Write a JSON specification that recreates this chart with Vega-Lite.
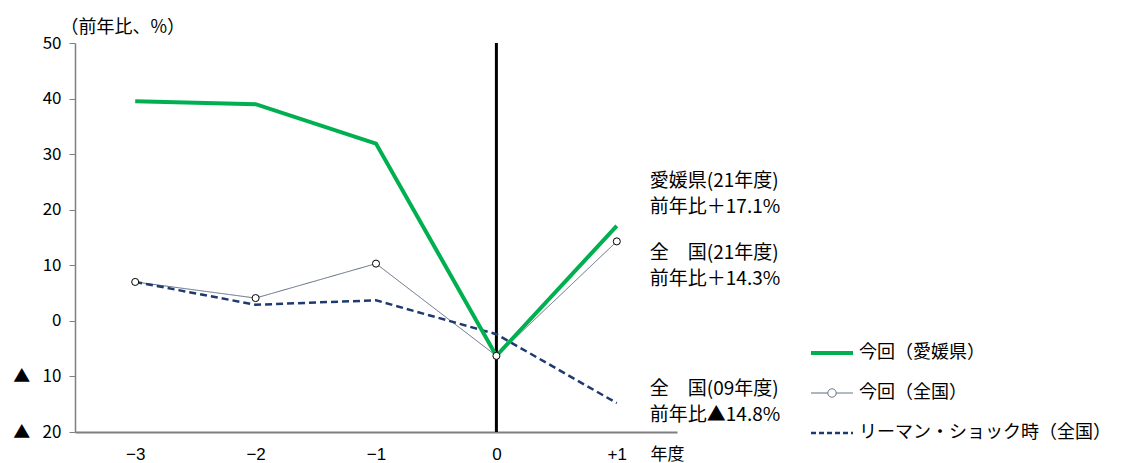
{
  "$schema": "https://vega.github.io/schema/vega-lite/v6.json",
  "width": 602,
  "height": 389,
  "autosize": "none",
  "padding": {"left": 75, "top": 43, "right": 444, "bottom": 31},
  "background": "white",
  "config": {
    "view": {"stroke": null},
    "font": "Noto Sans CJK JP",
    "text": {"font": "Noto Sans CJK JP", "color": "black"}
  },
  "datasets": {
    "series": [
      {"year": "−3", "series": "今回（愛媛県）", "value": 39.5},
      {"year": "−2", "series": "今回（愛媛県）", "value": 39.0},
      {"year": "−1", "series": "今回（愛媛県）", "value": 31.9},
      {"year": "0", "series": "今回（愛媛県）", "value": -6.3},
      {"year": "+1", "series": "今回（愛媛県）", "value": 17.1},
      {"year": "−3", "series": "今回（全国）", "value": 7.0},
      {"year": "−2", "series": "今回（全国）", "value": 4.1},
      {"year": "−1", "series": "今回（全国）", "value": 10.3},
      {"year": "0", "series": "今回（全国）", "value": -6.3},
      {"year": "+1", "series": "今回（全国）", "value": 14.3},
      {"year": "−3", "series": "リーマン・ショック時（全国）", "value": 7.0},
      {"year": "−2", "series": "リーマン・ショック時（全国）", "value": 2.9},
      {"year": "−1", "series": "リーマン・ショック時（全国）", "value": 3.7},
      {"year": "0", "series": "リーマン・ショック時（全国）", "value": -2.4},
      {"year": "+1", "series": "リーマン・ショック時（全国）", "value": -14.8}
    ],
    "notes": [
      {"year": "+1", "y": 25.2, "text": ["愛媛県(21年度)", "前年比＋17.1%"]},
      {"year": "+1", "y": 12.3, "text": ["全　国(21年度)", "前年比＋14.3%"]},
      {"year": "+1", "y": -12.2, "text": ["全　国(09年度)", "前年比▲14.8%"]}
    ],
    "marker": [{"year": "0", "label": "ショック時"}]
  },
  "encoding": {
    "x": {
      "field": "year",
      "type": "nominal",
      "sort": ["−3", "−2", "−1", "0", "+1"],
      "scale": {"type": "point", "padding": 0.5, "domain": ["−3", "−2", "−1", "0", "+1"]},
      "axis": {
        "title": "年度",
        "titleAngle": 0,
        "titleX": 575,
        "titleY": 22,
        "titleAlign": "left",
        "titleBaseline": "middle",
        "titleFontSize": 17,
        "titleFontWeight": "normal",
        "titleColor": "black",
        "labelAngle": 0,
        "labelFont": "Liberation Sans",
        "labelFontSize": 17,
        "labelColor": "black",
        "labelPadding": 14,
        "ticks": false,
        "grid": false,
        "domainColor": "#7f7f7f",
        "domainWidth": 2
      }
    },
    "y": {
      "field": "value",
      "type": "quantitative",
      "scale": {"domain": [-20, 50], "nice": false, "zero": false},
      "axis": {
        "values": [-20, -10, 0, 10, 20, 30, 40, 50],
        "labelExpr": "datum.value < 0 ? '▲ \u2002' + abs(datum.value) : datum.value",
        "labelFont": "Noto Sans CJK JP",
        "labelFontSize": 17,
        "labelColor": "black",
        "labelPadding": 8,
        "tickSize": 6,
        "tickColor": "#7f7f7f",
        "domainColor": "#7f7f7f",
        "domainWidth": 1.5,
        "grid": false,
        "title": "（前年比、%）",
        "titleAngle": 0,
        "titleX": -15,
        "titleY": -16,
        "titleAlign": "left",
        "titleBaseline": "middle",
        "titleFontSize": 18,
        "titleFontWeight": "normal",
        "titleColor": "black"
      }
    }
  },
  "layer": [
    {
      "data": {"name": "marker"},
      "mark": {"type": "rule", "color": "black", "strokeWidth": 1},
      "encoding": {"x": null, "y": {"datum": 0, "type": "quantitative"}}
    },
    {
      "data": {"name": "marker"},
      "mark": {"type": "rule", "color": "black", "strokeWidth": 3},
      "encoding": {"y": null}
    },
    {
      "data": {"name": "marker"},
      "mark": {"type": "text", "fontSize": 15, "dy": -11, "clip": false},
      "encoding": {
        "y": {"datum": 50, "type": "quantitative"},
        "text": {"field": "label"}
      }
    },
    {
      "data": {"name": "series"},
      "transform": [{"filter": "datum.series !== '今回（愛媛県）'"}],
      "mark": {"type": "line"},
      "encoding": {
        "detail": {"field": "series"},
        "color": {
          "field": "series",
          "type": "nominal",
          "scale": {
            "domain": ["今回（愛媛県）", "今回（全国）", "リーマン・ショック時（全国）"],
            "range": ["#00b050", "#5d6b80", "#1f3a70"]
          },
          "legend": {
            "title": null,
            "orient": "none",
            "legendX": 748,
            "legendY": 301,
            "symbolType": "stroke",
            "symbolSize": 1764,
            "labelFontSize": 18,
            "labelColor": "black",
            "labelLimit": 400,
            "labelOffset": 18,
            "rowPadding": 22,
            "encode": {
              "symbols": {
                "update": {
                  "strokeWidth": {"signal": "datum.value === '今回（愛媛県）' ? 4 : datum.value === '今回（全国）' ? 1 : 2.5"},
                  "strokeDash": {"signal": "datum.value === 'リーマン・ショック時（全国）' ? [5, 3] : [1, 0]"},
                  "shape": {"signal": "datum.value === '今回（全国）' ? 'M-1,0L-0.2,0M0.2,0L1,0M0.2,0A0.2,0.2,0,1,1,-0.2,0A0.2,0.2,0,1,1,0.2,0' : 'stroke'"},
                  "fill": {"signal": "datum.value === '今回（全国）' ? 'white' : 'transparent'"},
                  "opacity": {"value": 1}
                }
              }
            }
          }
        },
        "strokeWidth": {
          "condition": {"test": "datum.series === 'リーマン・ショック時（全国）'", "value": 2.5},
          "value": 1
        },
        "strokeDash": {
          "condition": {"test": "datum.series === 'リーマン・ショック時（全国）'", "value": [7, 4]},
          "value": [1, 0]
        }
      }
    },
    {
      "data": {"name": "series"},
      "transform": [{"filter": "datum.series === '今回（愛媛県）'"}],
      "mark": {"type": "line", "color": "#00b050", "strokeWidth": 4}
    },
    {
      "data": {"name": "series"},
      "transform": [{"filter": "datum.series === '今回（全国）'"}],
      "mark": {"type": "point", "shape": "circle", "filled": true, "fill": "white", "stroke": "black", "strokeWidth": 1, "size": 50, "opacity": 1}
    },
    {
      "data": {"name": "notes"},
      "mark": {"type": "text", "align": "left", "baseline": "middle", "dx": 33, "fontSize": 19, "lineHeight": 26, "clip": false},
      "encoding": {
        "y": {"field": "y", "type": "quantitative"},
        "text": {"field": "text"}
      }
    }
  ]
}
